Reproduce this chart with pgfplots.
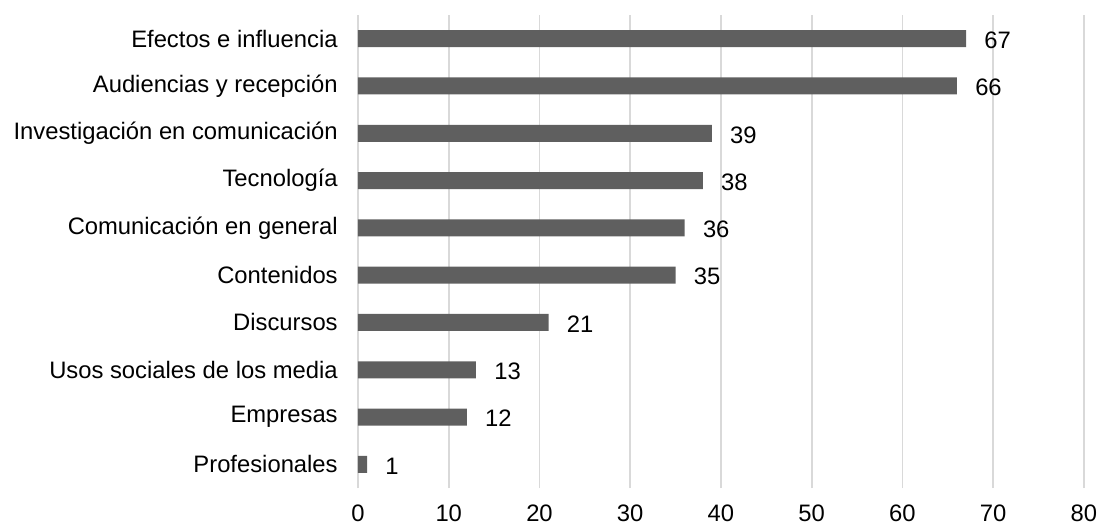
\documentclass[border=0pt]{standalone}
\usepackage{pgfplots}
\pgfplotsset{compat=1.18}
\usepackage{fontspec}
\setmainfont{Liberation Sans}
\definecolor{barc}{HTML}{5F5F5F}
\definecolor{gridc}{HTML}{D9D9D9}
\begin{document}
\fontsize{11.9}{14}\selectfont
\begin{tikzpicture}
\begin{axis}[
  at={(0,0)}, anchor=south west,
  scale only axis,
  width=363pt, height=236.5pt,
  xbar, bar width=8.5pt,
  xmin=0, xmax=80,
  ymin=-0.5, ymax=9.5,
  xtick={0,10,...,80},
  ytick={0,...,9},
  yticklabels={Profesionales,Empresas,Usos sociales de los media,Discursos,Contenidos\ ,Comunicación en general,Tecnología,Investigación en comunicación,Audiencias y recepción,Efectos e influencia},
  axis line style={draw=none},
  major tick length=0pt,
  xmajorgrids, grid style={gridc, line width=0.9pt},
  ymajorgrids=false,
  tick label style={font=\fontsize{11.9}{14}\selectfont},
  xticklabel style={yshift=-4.5pt},
  yticklabel style={xshift=-6pt},
  /pgf/number format/assume math mode=true,
  nodes near coords,
  nodes near coords style={font=\fontsize{11.9}{14}\selectfont, anchor=west, xshift=5pt, yshift=-0.8pt},
  clip=false,
]
\addplot[fill=barc, draw=none] coordinates {
(1,0) (12,1) (13,2) (21,3) (35,4) (36,5) (38,6) (39,7) (66,8) (67,9)
};
\end{axis}
\pgfresetboundingbox
\path[use as bounding box] (-179pt,-19pt) rectangle (371pt,244pt);
\end{tikzpicture}
\end{document}
